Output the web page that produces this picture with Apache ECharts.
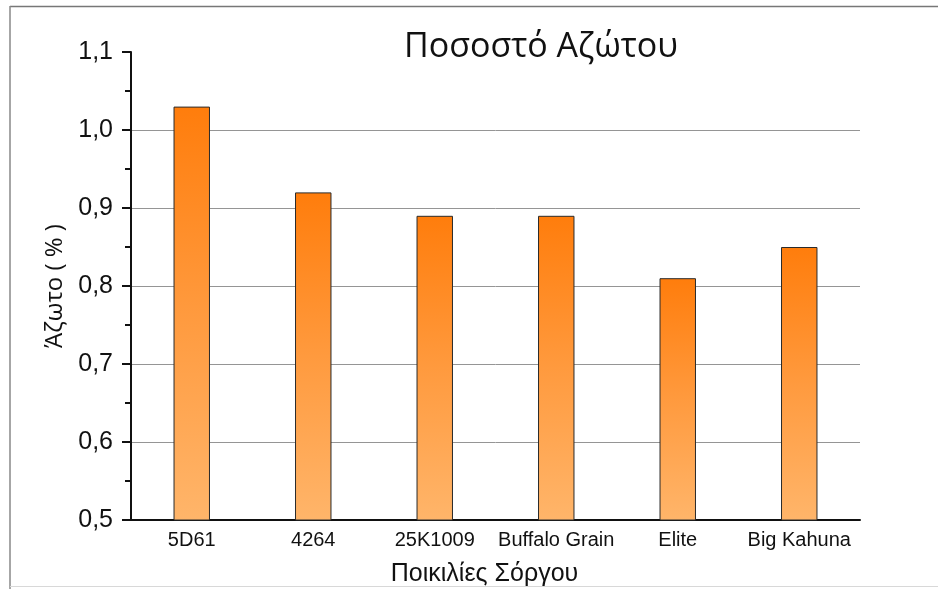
<!DOCTYPE html>
<html>
<head>
<meta charset="utf-8">
<script src="https://cdn.jsdelivr.net/npm/echarts@6/dist/echarts.min.js"></script>
<style>
  html, body { margin: 0; padding: 0; background: #fff; }
  #chart { width: 938px; height: 589px; }
</style>
</head>
<body>
<div id="chart"></div>
<script>
// Nitrogen content per sorghum variety
const varieties = ['5D61', '4264', '25K1009', 'Buffalo Grain', 'Elite', 'Big Kahuna'];
const nitrogen = [1.03, 0.92, 0.89, 0.89, 0.81, 0.85];
const yTicks = { min: 0.5, max: 1.1, step: 0.1 };

const chart = echarts.init(document.getElementById('chart'), null, { renderer: 'canvas' });

const barFill = new echarts.graphic.LinearGradient(0, 0, 0, 1, [
  { offset: 0, color: '#ff7d0c' },
  { offset: 0.5, color: '#ff9a3e' },
  { offset: 1, color: '#ffb56a' }
]);

chart.setOption({
  animation: false,
  backgroundColor: '#fff',
  title: {
    text: 'Ποσοστό Αζώτου',
    left: 536,
    textAlign: 'center',
    top: 25,
    textStyle: { fontFamily: 'Open Sans', fontSize: 34, fontWeight: 'normal', color: '#111' }
  },
  grid: { left: 131, right: 78, top: 52, bottom: 69, containLabel: false, outerBoundsMode: 'none' },
  xAxis: {
    type: 'category',
    data: varieties,
    name: 'Ποικιλίες Σόργου',
    nameLocation: 'middle',
    nameGap: 42,
    nameTextStyle: { fontFamily: 'Liberation Sans', fontSize: 25, color: '#111', padding: [0, 22, 0, 0] },
    axisLine: { lineStyle: { color: '#111', width: 2 } },
    axisTick: { show: false },
    axisLabel: { interval: 0, fontFamily: 'Liberation Sans', fontSize: 20, color: '#111', margin: 10 }
  },
  yAxis: {
    type: 'value',
    min: yTicks.min,
    max: yTicks.max,
    interval: yTicks.step,
    name: 'Άζωτο ( % )',
    nameLocation: 'middle',
    nameGap: 57,
    nameTextStyle: { fontFamily: 'Open Sans', fontSize: 24, color: '#111' },
    axisLine: { show: true, lineStyle: { color: '#111', width: 2 } },
    axisTick: { show: true, length: 9, lineStyle: { color: '#111', width: 2 } },
    minorTick: { show: true, splitNumber: 2, length: 6, lineStyle: { color: '#111', width: 2 } },
    axisLabel: {
      fontFamily: 'Liberation Sans', fontSize: 25, color: '#111', margin: 18,
      formatter: v => v.toFixed(1).replace('.', ',')
    },
    splitLine: { show: true, showMinLine: false, showMaxLine: false, lineStyle: { color: '#959595', width: 1 } }
  },
  series: [{
    type: 'bar',
    data: nitrogen,
    barWidth: '30%',
    itemStyle: { color: barFill, borderColor: '#2a2a2a', borderWidth: 1 }
  }],
  graphic: [
    { type: 'line', shape: { x1: 10, y1: 6.5, x2: 938, y2: 6.5 }, style: { stroke: '#777', lineWidth: 1.5 }, silent: true },
    { type: 'line', shape: { x1: 10, y1: 6, x2: 10, y2: 589 }, style: { stroke: '#888', lineWidth: 1.5 }, silent: true },
    { type: 'line', shape: { x1: 10, y1: 586.5, x2: 938, y2: 586.5 }, style: { stroke: '#d8d8d8', lineWidth: 1 }, silent: true }
  ]
});
</script>
</body>
</html>
